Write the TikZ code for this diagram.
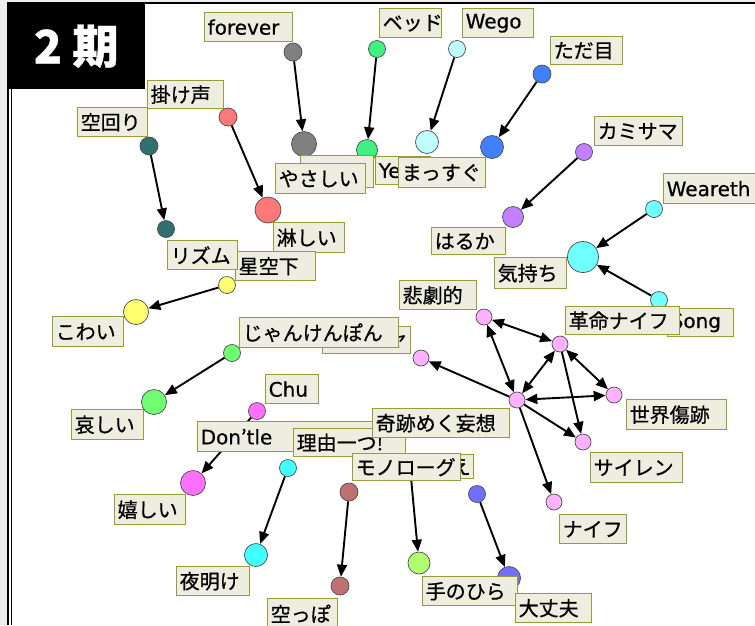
\documentclass[tikz,border=0pt]{standalone}
\usepackage{fontspec}
\setmainfont[FakeBold=0.7]{Noto Sans CJK JP}
\newfontfamily\lat[FakeBold=0.5]{DejaVu Sans}
\usetikzlibrary{arrows.meta}
\pgfdeclarelayer{back}
\pgfdeclarelayer{edges}
\pgfsetlayers{back,edges,main}
\definecolor{lblfill}{HTML}{EEEEE0}
\definecolor{lbldraw}{HTML}{9A9A3A}
\definecolor{cgray}{HTML}{808080}
\definecolor{cgreen}{HTML}{40F080}
\definecolor{cpale}{HTML}{C0FFFF}
\definecolor{cblue}{HTML}{4080FF}
\definecolor{cpurple}{HTML}{C080FF}
\definecolor{cteal}{HTML}{307070}
\definecolor{csalmon}{HTML}{FF7878}
\definecolor{ccyan}{HTML}{70FFFF}
\definecolor{cyellow}{HTML}{FFFF70}
\definecolor{clime}{HTML}{70FF70}
\definecolor{cmagenta}{HTML}{FF70FF}
\definecolor{caqua}{HTML}{40FFFF}
\definecolor{cbrown}{HTML}{C07070}
\definecolor{cviolet}{HTML}{7070FF}
\definecolor{cyg}{HTML}{B0FF70}
\definecolor{cpink}{HTML}{FFB0FF}
\tikzset{
  lbl/.style={draw=lbldraw, fill=lblfill, line width=1.4pt, inner xsep=3pt, inner ysep=0pt,
    anchor=north west, align=left, font=\fontsize{20}{22}\selectfont, text=black},
  vtx/.style={circle, draw=black!70, line width=0.7pt, inner sep=0pt, minimum size=#1},
  arr/.style={line width=1.9pt, -{Triangle[length=12pt,width=10pt]}},
  barr/.style={line width=1.9pt, {Triangle[length=12pt,width=10pt]}-{Triangle[length=12pt,width=10pt]}},
}
\newcommand\lab[7][left]{\pgfmathsetmacro\labw{#5-#3-6}\pgfmathsetmacro\labh{#6-#4}%
  \node[lbl,align=#1,text width=\labw pt,minimum height=\labh pt] (#2) at (#3,#4) {#7};}
\newcommand\vt[5]{\node[vtx=#4pt, fill=#5] (#1) at (#2,#3) {};}
\begin{document}
\begin{tikzpicture}[x=1pt,y=-1pt]
\useasboundingbox (0,0) rectangle (755,625);
\begin{pgfonlayer}{back}
  \fill[white] (0,0) rectangle (755,625);
  \fill[black!7] (0,0) rectangle (7,625);
  \fill[black!7] (0,0) rectangle (755,2);
  \draw[line width=2pt] (7,3) -- (755,3);
  \draw[line width=2.4pt] (8.2,3) -- (8.2,625);
  \draw[line width=0.8pt] (11.5,88) -- (11.5,625);
\end{pgfonlayer}
% source nodes
\vt{sF}{293}{52}{18}{cgray}
\vt{sB}{377}{49}{17}{cgreen}
\vt{sW}{457}{49}{17}{cpale}
\vt{sT}{542}{74}{18}{cblue}
\vt{sK}{584}{152}{17}{cpurple}
\vt{sKa}{149}{146}{18}{cteal}
\vt{sKk}{228}{117}{18}{csalmon}
\vt{sWe}{654}{209}{17}{ccyan}
\vt{sS}{659}{300}{17}{ccyan}
\vt{sHo}{227}{285}{17}{cyellow}
\vt{sJ}{232}{353}{17}{clime}
\vt{sC}{257}{411}{17}{cmagenta}
\vt{sRi}{288}{468}{17}{caqua}
\vt{sBr}{349}{492}{18}{cbrown}
\vt{sBs}{477}{494}{17}{cviolet}
\vt{sMo}{410}{467}{17}{cyg}
% target nodes
\vt{tY}{304}{144}{25}{cgray}
\vt{tG}{367}{150}{21}{cgreen}
\vt{tM}{427}{142}{23}{cpale}
\vt{tBl}{492}{147}{23}{cblue}
\vt{tH}{513}{217}{21}{cpurple}
\vt{tK}{583}{257}{31}{ccyan}
\vt{tR}{166}{229}{17}{cteal}
\vt{tSa}{268}{210}{26}{csalmon}
\vt{tKo}{136}{312}{25}{cyellow}
\vt{tKa}{154}{402}{25}{clime}
\vt{tU}{193}{483}{25}{cmagenta}
\vt{tYo}{256}{555}{23}{caqua}
\vt{tKp}{340}{586}{18}{cbrown}
\vt{tTe}{419}{563}{22}{cyg}
\vt{tD}{509}{578}{23}{cviolet}
% pink cluster
\vt{pHi}{484}{317}{16}{cpink}
\vt{pKa}{560}{344}{16}{cpink}
\vt{pHub}{517}{400}{16}{cpink}
\vt{pSe}{614}{395}{16}{cpink}
\vt{pSa}{583}{442}{16}{cpink}
\vt{pNa}{554}{502}{16}{cpink}
\vt{pL}{421}{358}{16}{cpink}
\begin{pgfonlayer}{edges}
  \draw[arr] (sF) -- (tY);
  \draw[arr] (sB) -- (tG);
  \draw[arr] (sW) -- (tM);
  \draw[arr] (sT) -- (tBl);
  \draw[arr] (sK) -- (tH);
  \draw[arr] (sWe) -- (tK);
  \draw[arr] (sS) -- (tK);
  \draw[arr] (sKa) -- (tR);
  \draw[arr] (sKk) -- (tSa);
  \draw[arr] (sHo) -- (tKo);
  \draw[arr] (sJ) -- (tKa);
  \draw[arr] (sC) -- (tU);
  \draw[arr] (sRi) -- (tYo);
  \draw[arr] (sBr) -- (tKp);
  \draw[arr] (sMo) -- (tTe);
  \draw[arr] (sBs) -- (tD);
  \draw[barr] (pHub) -- (pHi);
  \draw[barr] (pHi) -- (pKa);
  \draw[barr] (pKa) -- (pHub);
  \draw[barr] (pKa) -- (pSe);
  \draw[barr] (pHub) -- (pSe);
  \draw[arr] (pKa) -- (pSa);
  \draw[arr] (pHub) -- (pSa);
  \draw[arr] (pHub) -- (pNa);
  \draw[arr] (pHub) -- (pL);
\end{pgfonlayer}
% labels
\lab{lF}{204}{12}{292}{41}{\lat forever}
\lab{lB}{379}{8}{441}{37}{ベッド}
\lab{lW}{462}{8}{533}{37}{\lat Wego}
\lab{lT}{550}{36}{622}{64}{ただ目}
\lab{lKk}{147}{80}{223}{108}{掛け声}
\lab{lKa}{77}{107}{147}{136}{空回り}
\lab{lK}{594}{116}{682}{145}{カミサマ}
\lab{lX}{300}{155}{373}{187}{}
\lab{lY}{275}{163}{365}{193}{やさしい}
\lab{lG}{375}{156}{430}{184}{\lat Yes}
\lab{lM}{398}{157}{485}{187}{まっすぐ}
\lab{lSa}{273}{222}{344}{252}{淋しい}
\lab{lH}{431}{227}{505}{254}{はるか}
\lab{lWe}{663}{173}{775}{203}{\lat Weareth}
\lab{lHo}{235}{251}{315}{280}{星空下}
\lab{lR}{167}{240}{237}{269}{リズム}
\lab{lKi}{494}{257}{566}{288}{気持ち}
\lab{lHi}{399}{280}{476}{309}{悲劇的}
\lab{lS}{667}{308}{733}{336}{\lat Song}
\lab{lKm}{565}{306}{679}{334}{革命ナイフ}
\lab{lKo}{52}{316}{123}{346}{こわい}
\lab[right]{lP}{322}{326}{410}{353}{ャ}
\lab{lJ}{239}{317}{398}{347}{じゃんけんぽん}
\lab{lC}{265}{374}{318}{403}{\lat Chu}
\lab{lKn}{71}{409}{143}{439}{哀しい}
\lab{lSe}{626}{399}{726}{429}{世界傷跡}
\lab{lD}{197}{421}{372}{451}{{\lat Don}’{\lat tle}}
\lab{lRi}{293}{428}{405}{456}{理由一つ!}
\lab{lKs}{372}{408}{509}{437}{奇跡めく妄想}
\lab[right]{lE}{370}{454}{473}{478}{え}
\lab{lMo}{352}{453}{460}{480}{モノローグ}
\lab{lSi}{590}{452}{682}{482}{サイレン}
\lab{lU}{114}{494}{185}{524}{嬉しい}
\lab{lN}{559}{514}{626}{543}{ナイフ}
\lab{lYo}{176}{566}{249}{595}{夜明け}
\lab{lTe}{422}{576}{517}{605}{手のひら}
\lab{lDa}{515}{593}{591}{622}{大丈夫}
\lab{lKp}{267}{598}{337}{628}{空っぽ}
% title
\node[fill=black, anchor=north west, minimum width=138pt, minimum height=86pt, inner sep=0pt,
  text=white, font=\fontsize{46}{46}\selectfont\bfseries] (title) at (7,3) {2 期};
\end{tikzpicture}
\end{document}
